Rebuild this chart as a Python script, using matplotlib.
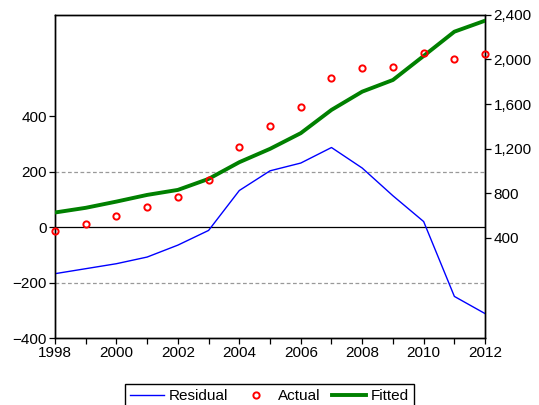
import numpy as np
import matplotlib.pyplot as plt
from matplotlib.ticker import FuncFormatter

plt.rcParams['font.family'] = ['Liberation Sans', 'DejaVu Sans']

years = np.arange(1998, 2013)
actual = [460, 520, 598, 670, 768, 918, 1215, 1406, 1571, 1831, 1924, 1933, 2062, 2008, 2047]
fitted = [625, 667, 723, 783, 828, 927, 1077, 1197, 1338, 1547, 1711, 1816, 2032, 2250, 2349]
residual = [-168, -150, -132, -108, -65, -12, 132, 203, 231, 287, 213, 113, 20, -250, -312]

left_ticks = [-400, -200, 0, 200, 400]
right_ticks = [400, 800, 1200, 1600, 2000, 2400]
x_labels = [1998, 2000, 2002, 2004, 2006, 2008, 2010, 2012]

fig = plt.figure(figsize=(5.39, 4.05), dpi=100)
ax = fig.add_axes([0.102, 0.1654, 0.798, 0.7976])
ax2 = ax.twinx()

# reference lines on the residual scale
ax.axhline(0, color='black', lw=0.9, zorder=1)
for v in (200, -200):
    ax.axhline(v, color='#999999', lw=0.9, ls=(0, (3, 2)), zorder=1)

l1, = ax.plot(years, residual, color='blue', lw=1.0, zorder=3)
l2, = ax2.plot(years, actual, ls='none', marker='o', ms=4.5, mfc='none',
               mec='red', mew=1.4, clip_on=False, zorder=4)
l3, = ax2.plot(years, fitted, color='green', lw=2.8, zorder=3)

ax.set_xlim(1998, 2012)
ax.set_ylim(-400, 765)
ax2.set_ylim(-503, 2400)

ax.set_yticks(left_ticks)
ax2.set_yticks(right_ticks)
ax2.yaxis.set_major_formatter(FuncFormatter(lambda v, p: f"{int(v):,}"))
ax.set_xticks(x_labels)
ax.set_xticks(years, minor=True)

for a in (ax, ax2):
    a.tick_params(axis='both', which='both', direction='out', length=4,
                  width=0.9, labelsize=11, pad=2, colors='black')
    for s in a.spines.values():
        s.set_linewidth(1.0)

ax.tick_params(axis='x', which='both', length=4)

fig.legend([l1, l2, l3], ['Residual', 'Actual', 'Fitted'], loc='upper center',
           bbox_to_anchor=(0.5, 1 - 384 / 405), ncol=3, fontsize=11,
           frameon=True, fancybox=False, edgecolor='black', framealpha=1,
           handlelength=2.2, columnspacing=0.75, handletextpad=0.33,
           borderpad=0.35, borderaxespad=0)
fig.legends[0].get_frame().set_linewidth(1.0)

fig.savefig('out.png', dpi=100)
